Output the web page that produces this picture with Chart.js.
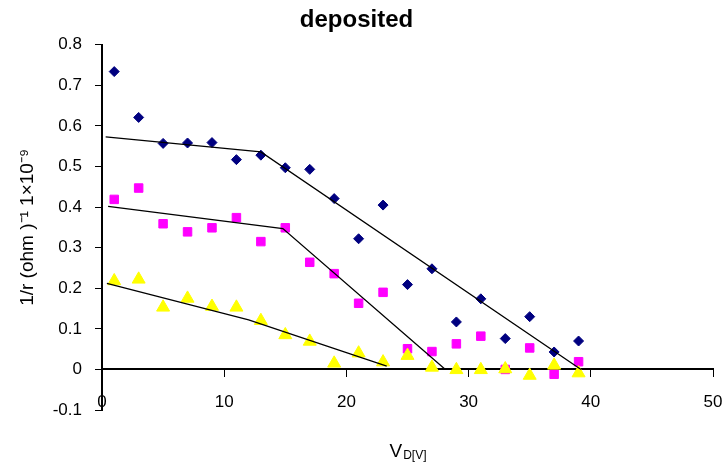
<!DOCTYPE html>
<html>
<head>
<meta charset="utf-8">
<script src="https://cdn.jsdelivr.net/npm/chart.js@4/dist/chart.umd.min.js"></script>
<style>
  body { margin: 0; background: #fff; }
  #wrap { width: 725px; height: 467px; }
</style>
</head>
<body>
<div id="wrap"><canvas id="chart"></canvas></div>
<script>
const vd = [1, 3, 5, 7, 9, 11, 13, 15, 17, 19, 21, 23, 25, 27, 29, 31, 33, 35, 37, 39];
const blueVals = [0.734, 0.621, 0.557, 0.558, 0.559, 0.517, 0.528, 0.497, 0.493, 0.421,
  0.322, 0.405, 0.209, 0.248, 0.117, 0.174, 0.076, 0.13, 0.043, 0.07];
const pinkVals = [0.419, 0.447, 0.359, 0.339, 0.349, 0.374, 0.315, 0.349, 0.264, 0.236,
  0.163, 0.19, 0.051, 0.044, 0.063, 0.082, 0.0, 0.053, -0.012, 0.019];
const yellowVals = [0.218, 0.222, 0.153, 0.175, 0.155, 0.153, 0.12, 0.085, 0.069, 0.015,
  0.04, 0.018, 0.034, 0.005, -0.001, -0.001, 0.001, -0.015, 0.01, -0.009];

// hand-drawn fit lines
const blueFitX = [0.3, 13.0, 39.2];
const blueFitY = [0.573, 0.536, 0.0];
const pinkFitX = [0.5, 14.8, 28.1];
const pinkFitY = [0.402, 0.347, 0.0];
const yellowFitX = [0.4, 12, 23.3];
const yellowFitY = [0.212, 0.122, 0.008];

const xTicks = [0, 10, 20, 30, 40, 50];
const yTicks = [-0.1, 0, 0.1, 0.2, 0.3, 0.4, 0.5, 0.6, 0.7, 0.8];

const pts = (xs, ys) => xs.map((x, i) => ({ x: x, y: ys[i] }));
const FONT = "'Liberation Sans', Arial, sans-serif";

const fitLine = (xs, ys) => ({
  type: "line",
  data: pts(xs, ys),
  borderColor: "#000",
  borderWidth: 1.3,
  pointRadius: 0,
  fill: false,
  tension: 0
});

// x axis title with subscript
const xTitle = {
  id: "xTitle",
  afterDraw(chart) {
    const { ctx, chartArea } = chart;
    const cx = (chartArea.left + chartArea.right) / 2;
    const base = chartArea.bottom + 47;
    ctx.save();
    ctx.fillStyle = "#000";
    ctx.textBaseline = "alphabetic";
    ctx.font = "19px " + FONT;
    const w1 = ctx.measureText("V").width;
    ctx.font = "12px " + FONT;
    const w2 = ctx.measureText("D[V]").width;
    const x0 = cx - (w1 + w2) / 2;
    ctx.font = "19px " + FONT;
    ctx.fillText("V", x0, base);
    ctx.font = "12px " + FONT;
    ctx.fillText("D[V]", x0 + w1 + 1, base + 2);
    ctx.restore();
  }
};

new Chart(document.getElementById("chart"), {
  type: "scatter",
  data: {
    datasets: [
      fitLine(blueFitX, blueFitY),
      fitLine(pinkFitX, pinkFitY),
      fitLine(yellowFitX, yellowFitY),
      {
        data: pts(vd, yellowVals),
        pointStyle: "triangle",
        pointRadius: 7.5,
        borderWidth: 1,
        backgroundColor: "#ffff00",
        borderColor: "#ffff00"
      },
      {
        data: pts(vd, pinkVals),
        pointStyle: "rect",
        pointRadius: 6,
        borderWidth: 1,
        backgroundColor: "#ff00ff",
        borderColor: "#ff00ff"
      },
      {
        data: pts(vd, blueVals),
        pointStyle: "rectRot",
        pointRadius: 5,
        borderWidth: 1,
        backgroundColor: "#000080",
        borderColor: "#000080"
      }
    ]
  },
  options: {
    responsive: true,
    maintainAspectRatio: false,
    animation: false,
    layout: { padding: { left: 0, right: 12, top: 0, bottom: 57 } },
    plugins: {
      legend: { display: false },
      tooltip: { enabled: false },
      title: {
        display: true,
        text: "deposited",
        color: "#000",
        font: { family: FONT, size: 24, weight: "bold" },
        padding: { top: 6, bottom: 10 }
      }
    },
    scales: {
      x: {
        type: "linear",
        min: 0,
        max: 50,
        position: { y: 0 },
        afterBuildTicks: (s) => { s.ticks = xTicks.map(v => ({ value: v })); },
        afterFit: (s) => { s.paddingLeft = 0; s.paddingRight = 0; },
        ticks: {
          color: "#000",
          font: { family: FONT, size: 17 },
          padding: 16,
          maxRotation: 0,
          autoSkip: false,
          callback: (v) => String(v)
        },
        grid: { drawOnChartArea: false, drawTicks: true, tickLength: 7, color: "#000", lineWidth: 1 },
        border: { display: true, color: "#000", width: 2 }
      },
      y: {
        type: "linear",
        min: -0.1,
        max: 0.8,
        afterBuildTicks: (s) => { s.ticks = yTicks.map(v => ({ value: v })); },
        afterFit: (s) => { s.width = 102; },
        ticks: {
          color: "#000",
          font: { family: FONT, size: 17 },
          padding: 13,
          autoSkip: false,
          callback: (v) => String(v)
        },
        grid: { drawOnChartArea: false, drawTicks: true, tickLength: 7, color: "#000", lineWidth: 1 },
        border: { display: true, color: "#000", width: 2 },
        title: {
          display: true,
          text: "1/r (ohm )\u207B\u00B9 1\u00D710\u207B\u2079",
          color: "#000",
          font: { family: FONT, size: 19 },
          padding: { top: 16, bottom: 0 }
        }
      }
    }
  },
  plugins: [xTitle]
});
</script>
</body>
</html>
